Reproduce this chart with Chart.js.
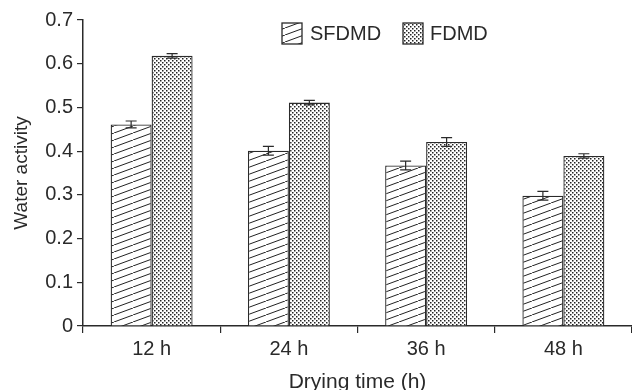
<!DOCTYPE html>
<html>
<head>
<meta charset="utf-8">
<script src="https://cdn.jsdelivr.net/npm/chart.js@4/dist/chart.umd.min.js"></script>
<style>
html,body{margin:0;padding:0;background:#fff;}
#wrap{width:632px;height:390px;position:relative;}
</style>
</head>
<body>
<div id="wrap"><canvas id="c" width="632" height="390"></canvas></div>
<script>
const categories = ['12 h', '24 h', '36 h', '48 h'];
const seriesNames = ['SFDMD', 'FDMD'];
const sfdmd = [0.461, 0.401, 0.367, 0.298];
const fdmd = [0.618, 0.511, 0.421, 0.389];
const sfdmdErr = [0.008, 0.01, 0.01, 0.01];
const fdmdErr = [0.005, 0.005, 0.01, 0.005];
const yTicks = [0, 0.1, 0.2, 0.3, 0.4, 0.5, 0.6, 0.7];

const INK = '#2a2a2a';
const FONT = 'Liberation Sans, Arial, sans-serif';

function hatchPattern() {
  const W = 19, H = 7;
  const c = document.createElement('canvas');
  c.width = W; c.height = H;
  const g = c.getContext('2d');
  g.fillStyle = '#fff'; g.fillRect(0, 0, W, H);
  g.strokeStyle = '#222'; g.lineWidth = 1;
  for (const dx of [-W, 0, W]) {
    g.beginPath(); g.moveTo(dx, H); g.lineTo(dx + W, 0); g.stroke();
  }
  return g.createPattern(c, 'repeat');
}
function dotPattern() {
  const c = document.createElement('canvas');
  c.width = 4; c.height = 4;
  const g = c.getContext('2d');
  g.fillStyle = '#fff'; g.fillRect(0, 0, 4, 4);
  g.fillStyle = '#222';
  g.fillRect(0, 0, 1.5, 1.5);
  g.fillRect(2, 2, 1.5, 1.5);
  return g.createPattern(c, 'repeat');
}
const patterns = [hatchPattern(), dotPattern()];
const errs = [sfdmdErr, fdmdErr];

const errorBars = {
  id: 'errorBars',
  afterDatasetsDraw(chart) {
    const ctx = chart.ctx, y = chart.scales.y;
    ctx.save();
    ctx.strokeStyle = INK; ctx.lineWidth = 1.2;
    chart.data.datasets.forEach((ds, di) => {
      const meta = chart.getDatasetMeta(di);
      meta.data.forEach((el, i) => {
        const v = ds.data[i], e = errs[di][i];
        const yt = y.getPixelForValue(v + e), yb = y.getPixelForValue(v - e);
        const x = el.x, hw = 5.5;
        ctx.beginPath();
        ctx.moveTo(x, yt); ctx.lineTo(x, yb);
        ctx.moveTo(x - hw, yt); ctx.lineTo(x + hw, yt);
        ctx.moveTo(x - hw, yb); ctx.lineTo(x + hw, yb);
        ctx.stroke();
      });
    });
    ctx.restore();
  }
};

const legendPlugin = {
  id: 'customLegend',
  afterDraw(chart) {
    const ctx = chart.ctx;
    const items = [{ bx: 282, tx: 310 }, { bx: 403, tx: 430 }];
    ctx.save();
    chart.data.datasets.forEach((ds, i) => {
      const it = items[i];
      ctx.fillStyle = ds.backgroundColor;
      ctx.fillRect(it.bx, 23, 20, 21);
      ctx.strokeStyle = INK; ctx.lineWidth = 1.3;
      ctx.strokeRect(it.bx, 23, 20, 21);
      ctx.fillStyle = INK;
      ctx.font = '20px ' + FONT;
      ctx.textBaseline = 'middle';
      ctx.textAlign = 'left';
      ctx.fillText(ds.label, it.tx, 34);
    });
    ctx.restore();
  }
};

new Chart(document.getElementById('c'), {
  type: 'bar',
  data: {
    labels: categories,
    datasets: [
      { label: seriesNames[0], data: sfdmd, backgroundColor: patterns[0], borderColor: INK, borderWidth: 1.3 },
      { label: seriesNames[1], data: fdmd, backgroundColor: patterns[1], borderColor: INK, borderWidth: 1.3 }
    ]
  },
  options: {
    responsive: false,
    animation: false,
    layout: { padding: { top: 20, right: 0, bottom: 0, left: 0 } },
    plugins: { legend: { display: false }, tooltip: { enabled: false } },
    datasets: { bar: { categoryPercentage: 0.597, barPercentage: 1.0 } },
    scales: {
      x: {
        grid: { display: true, offset: true, drawOnChartArea: false, drawTicks: true, tickLength: 7, color: INK, lineWidth: 1.2 },
        border: { display: true, color: INK, width: 1.5 },
        ticks: { color: INK, font: { family: FONT, size: 20 }, padding: 4 },
        title: { display: true, text: 'Drying time (h)', color: INK, font: { family: FONT, size: 21 }, padding: { top: 4, bottom: -5 } },
        afterFit(s) { s.height = 64; }
      },
      y: {
        min: 0, max: 0.7,
        afterBuildTicks(s) { s.ticks = yTicks.map(v => ({ value: v })); },
        grid: { display: true, drawOnChartArea: false, drawTicks: true, tickLength: 6, color: INK, lineWidth: 1.2 },
        border: { display: true, color: INK, width: 1.5 },
        ticks: { color: INK, font: { family: FONT, size: 20 }, padding: 4, callback: v => String(Math.round(v * 10) / 10) },
        title: { display: true, text: 'Water activity', color: INK, font: { family: FONT, size: 19 }, padding: { top: 10, bottom: 0 } },
        afterFit(s) { s.width = 83; }
      }
    }
  },
  plugins: [errorBars, legendPlugin]
});
</script>
</body>
</html>
